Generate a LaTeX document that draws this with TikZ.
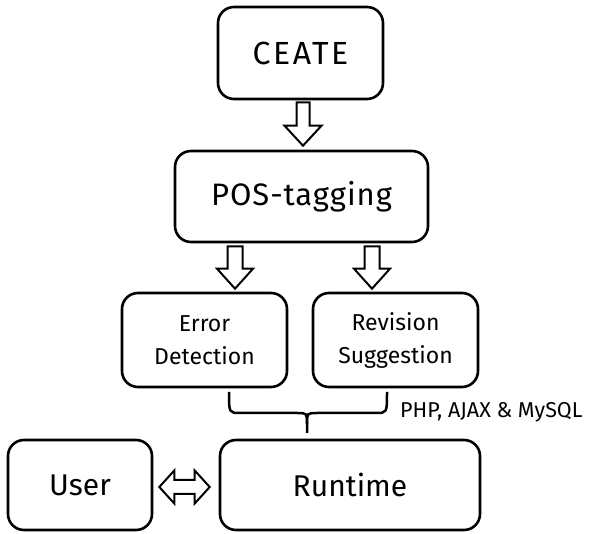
\documentclass[tikz,border=0pt]{standalone}
\usepackage{fontspec}
\setmainfont{Fira Sans}
\usetikzlibrary{calc}
\tikzset{
  box/.style={draw=black, line width=2.6pt, rounded corners=16pt, inner sep=0pt, align=center},
  blockarrow/.style={draw=black, line width=2pt, fill=white, line join=miter},
  bracepath/.style={draw=black, line width=2.5pt},
}
\newcommand\blockdown[4]{% start, end, shaft half width, head half width
  \draw[blockarrow] let \p1=(#1), \p2=(#2) in
    (\x1-#3,\y1) -- (\x1-#3,\y2+20pt) -- (\x1-#4,\y2+20pt) -- (\x1,\y2)
    -- (\x1+#4,\y2+20pt) -- (\x1+#3,\y2+20pt) -- (\x1+#3,\y1) -- cycle;
}
\begin{document}
\begin{tikzpicture}[x=1pt,y=-1pt]
\useasboundingbox (0,0) rectangle (590,534);
\node[box, minimum width=165pt, minimum height=92pt, font=\fontsize{32}{36}\selectfont\addfontfeature{LetterSpace=8}] (ceate) at (300.5,53) {CEATE};
\node[box, minimum width=253pt, minimum height=91pt, font=\fontsize{31}{36}\selectfont\addfontfeature{LetterSpace=3}] (pos) at (301.5,196.5) {POS-tagging};
\node[box, minimum width=165pt, minimum height=94pt, font=\fontsize{23}{33}\selectfont] (err) at (204.5,340) {Error\\Detection};
\node[box, minimum width=165pt, minimum height=94pt, font=\fontsize{23}{33}\selectfont] (rev) at (395.5,340) {Revision\\Suggestion};
\node[box, minimum width=144pt, minimum height=90pt, font=\fontsize{30}{34}\selectfont] (user) at (80,485) {User};
\node[box, minimum width=260pt, minimum height=90pt, font=\fontsize{30}{34}\selectfont] (run) at (350,485) {Runtime};
% block arrows
\coordinate (a1s) at ($(ceate.south)+(2.5,2)$);
\coordinate (a1e) at ($(pos.north)+(1.5,-4)$);
\blockdown{a1s}{a1e}{6.5pt}{18.5pt}
\coordinate (a2s) at ($(pos.south)+(-66.5,3)$);
\coordinate (a2e) at ($(err.north)+(30.5,-3)$);
\blockdown{a2s}{a2e}{7.5pt}{18pt}
\coordinate (a3s) at ($(pos.south)+(70.5,3)$);
\coordinate (a3e) at ($(rev.north)+(-23.5,-3)$);
\blockdown{a3s}{a3e}{7.5pt}{18pt}
% double arrow
\coordinate (dl) at ($(user.east)+(6,2)$);
\coordinate (dr) at ($(run.west)+(-9,2)$);
\draw[blockarrow] let \p1=(dl), \p2=(dr) in
  (\x1,\y1) -- (\x1+15pt,\y1+16.5pt) -- (\x1+15pt,\y1+7pt) -- (\x2-15pt,\y1+7pt)
  -- (\x2-15pt,\y1+16.5pt) -- (\x2,\y1) -- (\x2-15pt,\y1-16.5pt) -- (\x2-15pt,\y1-7pt)
  -- (\x1+15pt,\y1-7pt) -- (\x1+15pt,\y1-16.5pt) -- cycle;
% brace
\coordinate (bl) at (229,392);
\coordinate (br) at (387,392);
\coordinate (bt) at (307,433);
\draw[bracepath] (bl) .. controls (229,413) .. (240,413) -- (297,413) .. controls (307,413) .. (307,424) -- (bt);
\draw[bracepath] (br) .. controls (387,413) .. (376,413) -- (317,413) .. controls (307,413) .. (307,424);
\node[anchor=west, inner sep=0pt, font=\fontsize{21.5}{25}\selectfont] (php) at (400,412) {PHP, AJAX \& MySQL};
\end{tikzpicture}
\end{document}
